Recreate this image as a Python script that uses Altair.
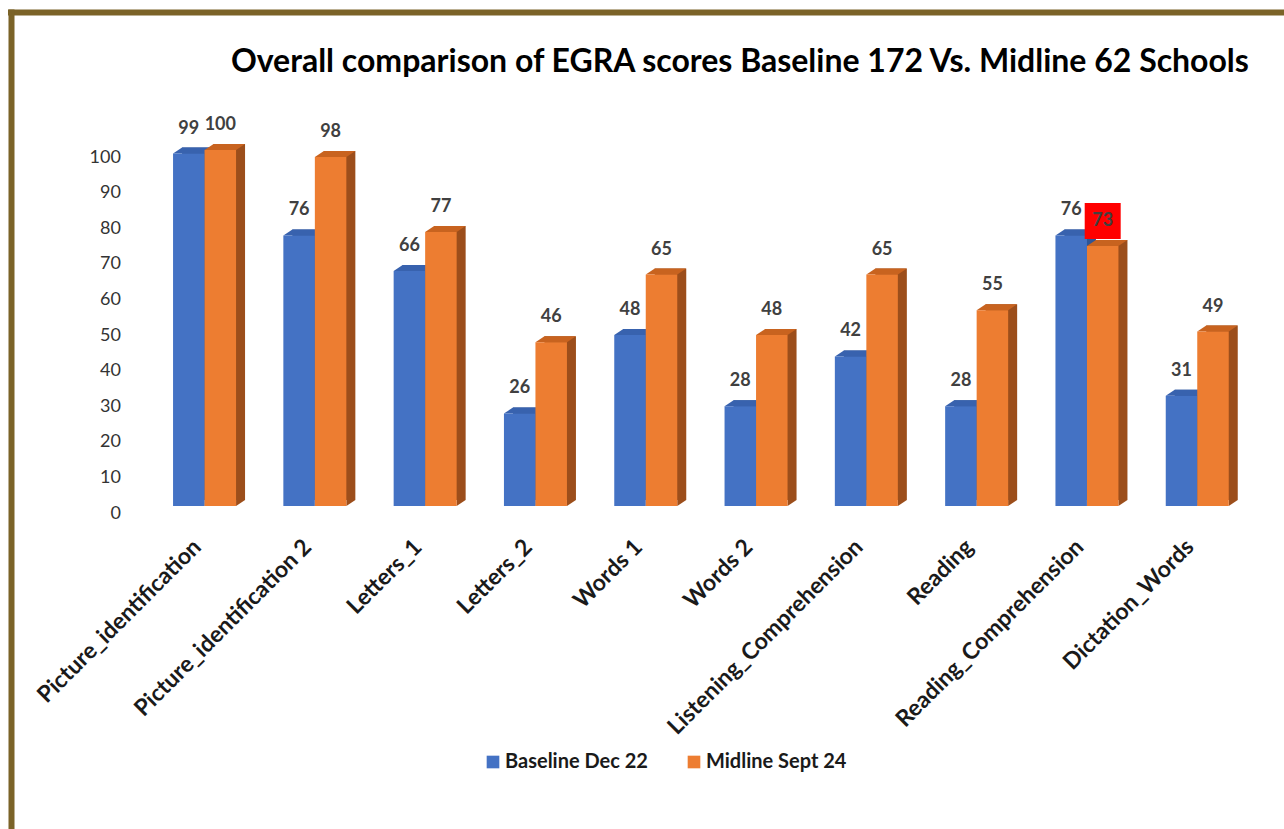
import altair as alt
import pandas as pd

# EGRA subtask scores (percent) for the two assessment rounds
categories = [
    "Picture_identification",
    "Picture_identification 2",
    "Letters_1",
    "Letters_2",
    "Words 1",
    "Words 2",
    "Listening_Comprehension",
    "Reading",
    "Reading_Comprehension",
    "Dictation_Words",
]
baseline = [99, 76, 66, 26, 48, 28, 42, 28, 76, 31]
midline = [100, 98, 77, 46, 65, 48, 65, 55, 73, 49]
series_names = ["Baseline Dec 22", "Midline Sept 24"]
# midline value that is flagged with a red box
flagged = [("Reading_Comprehension", "Midline Sept 24")]

rows = []
for cat, b, m in zip(categories, baseline, midline):
    rows.append({"task": cat, "series": series_names[0], "score": b,
                 "flag": (cat, series_names[0]) in flagged})
    rows.append({"task": cat, "series": series_names[1], "score": m,
                 "flag": (cat, series_names[1]) in flagged})
df = pd.DataFrame(rows)

# geometry of the plot area and the pseudo-3D bars
PLOT_W, PLOT_H = 1103, 356
LEFT, TOP = 149.4, 150
BAR_W = 31.5
DEPTH_X, DEPTH_Y = 9, 6
FONT = "Lato"

front_colors = ["#4472C4", "#ED7D31"]
top_colors = ["#3862AE", "#C8631F"]
side_colors = ["#2E5596", "#9C4E1B"]

x_enc = alt.X("task:N", sort=categories,
              scale=alt.Scale(paddingInner=0, paddingOuter=0),
              axis=alt.Axis(title=None, labelAngle=315, labelAlign="right",
                            labelBaseline="middle", labelPadding=37,
                            labelOffset=-7,
                            ticks=False, domain=False, labelFont=FONT,
                            labelFontSize=23, labelFontWeight="bold",
                            labelColor="#1a1a1a", labelLimit=500,
                            labelOverlap=False))
y_scale = alt.Scale(domain=[0, 100], nice=False)
y_axis = alt.Axis(title=None, values=list(range(0, 101, 10)),
                  ticks=False, domain=False, grid=False,
                  labelOverlap=False, labelPadding=29,
                  labelOffset=7, labelFont=FONT,
                  labelFontSize=18, labelColor="#333333")
y_enc = alt.Y("score:Q", scale=y_scale, axis=y_axis)

# custom symbol paths: unit = sqrt(size)/2 pixels
half = BAR_W / 2
unit = half + DEPTH_X
SYM_SIZE = (2 * unit) ** 2


def u(v):
    return f"{v / unit:.4f}"


top_path = (f"M {u(-half)} 0 L {u(-half + DEPTH_X)} {u(-DEPTH_Y)} "
            f"L {u(half + DEPTH_X)} {u(-DEPTH_Y)} L {u(half)} 0 Z")
foot_path = (f"M {u(half)} 0 L {u(half)} {u(-DEPTH_Y)} "
             f"L {u(half + DEPTH_X)} {u(-DEPTH_Y)} Z")

base = alt.Chart(df)
layers = []
for i, name in enumerate(series_names):
    shift = -half if i == 0 else half
    sub = base.transform_filter(alt.datum.series == name)
    side = sub.mark_bar(width=BAR_W, xOffset=shift + DEPTH_X,
                        yOffset=-DEPTH_Y, y2Offset=-DEPTH_Y,
                        color=side_colors[i]).encode(x=x_enc, y=y_enc)
    foot = sub.mark_point(shape=foot_path, size=SYM_SIZE, filled=True,
                          opacity=1, strokeWidth=0, xOffset=shift,
                          color=side_colors[i]).encode(
        x=x_enc, y=alt.Y(datum=0, scale=y_scale, axis=y_axis))
    lid = sub.mark_point(shape=top_path, size=SYM_SIZE, filled=True,
                         opacity=1, strokeWidth=0, xOffset=shift,
                         color=top_colors[i]).encode(x=x_enc, y=y_enc)
    front = sub.mark_bar(width=BAR_W, xOffset=shift).encode(
        x=x_enc, y=y_enc,
        color=alt.Color("series:N",
                        scale=alt.Scale(domain=series_names, range=front_colors),
                        legend=alt.Legend(orient="none", legendX=333.6,
                                          legendY=602, direction="horizontal",
                                          title=None, symbolType="square",
                                          symbolSize=160, symbolStrokeWidth=0,
                                          labelFont=FONT, labelFontSize=20,
                                          labelFontWeight="bold",
                                          labelColor="#1a1a1a", labelOffset=2,
                                          columnPadding=36, padding=0)))
    layers += [side, foot, lid, front]

# red highlight box behind a flagged value label
box = base.transform_filter(alt.datum.flag == True).mark_square(
    size=1296, color="#FF0000", opacity=1, xOffset=half, yOffset=-25
).encode(x=x_enc, y=y_enc)

labels = []
for i, name in enumerate(series_names):
    shift = -half if i == 0 else half
    labels.append(
        base.transform_filter(alt.datum.series == name).mark_text(
            dx=shift, dy=-25, baseline="middle", align="center", font=FONT,
            fontSize=18, fontWeight="bold", color="#404040"
        ).encode(x=x_enc, y=y_enc, text="score:Q"))

# frame lines along the top and left edges
frame_df = pd.DataFrame({"k": [0]})
top_line = alt.Chart(frame_df).mark_rule(color="#7B6328", strokeWidth=6).encode(
    x=alt.value(8 - LEFT), x2=alt.value(1284 - LEFT), y=alt.value(12.5 - TOP))
left_line = alt.Chart(frame_df).mark_rule(color="#7B6328", strokeWidth=6).encode(
    x=alt.value(11.5 - LEFT), y=alt.value(9.5 - TOP), y2=alt.value(829 - TOP))

chart = alt.layer(*layers, box, *labels, top_line, left_line).properties(
    width=PLOT_W,
    height=PLOT_H,
    title=alt.TitleParams(
        text="Overall comparison of EGRA scores Baseline 172 Vs. Midline 62 Schools",
        frame="group", anchor="middle", dx=39, offset=0, dy=97,
        baseline="alphabetic", font=FONT, fontSize=32, fontWeight="bold",
        color="#000000"),
    autosize=alt.AutoSizeParams(type="none"),
    padding={"left": LEFT, "top": TOP, "right": 1284 - LEFT - PLOT_W,
             "bottom": 829 - TOP - PLOT_H},
    background="white",
).configure_view(stroke=None)

chart.save("out.html", embed_options={"renderer": "svg", "actions": False})
